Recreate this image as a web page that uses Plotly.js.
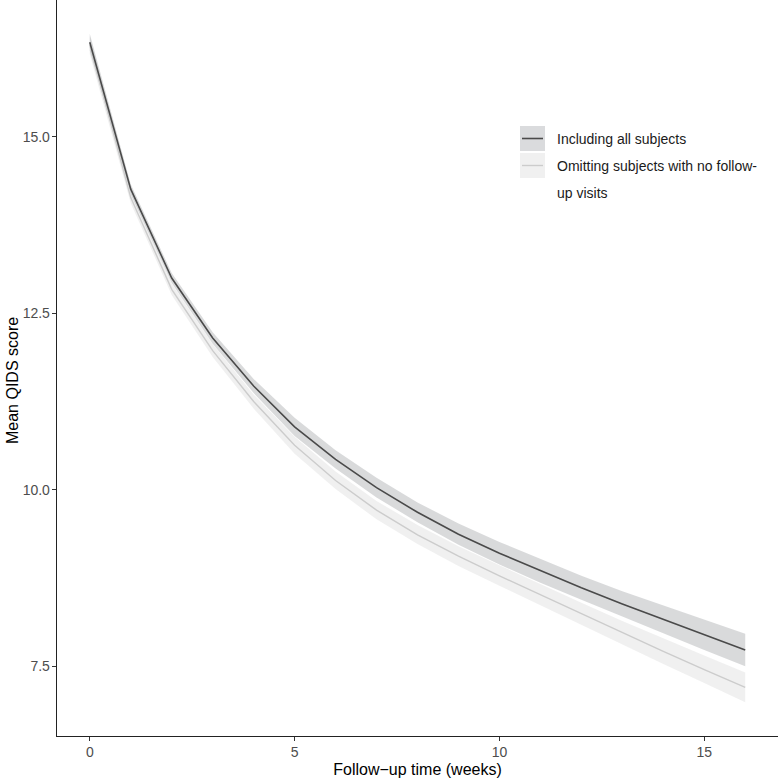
<!DOCTYPE html>
<html>
<head>
<meta charset="utf-8">
<script src="https://cdn.plot.ly/plotly-3.0.1.min.js"></script>
<style>
  html, body { margin: 0; padding: 0; background: #ffffff; }
  #chart { width: 778px; height: 778px; }
</style>
</head>
<body>
<div id="chart"></div>
<script>
// Follow-up week of each model estimate
const weeks = [0, 1, 2, 3, 4, 5, 6, 7, 8, 9, 10, 11, 12, 13, 14, 15, 16];

// Mean QIDS score, all subjects, with 95% band
const allMean  = [16.34, 14.26, 13.00, 12.15, 11.47, 10.89, 10.43, 10.03, 9.68, 9.37, 9.10, 8.85, 8.61, 8.38, 8.16, 7.94, 7.73];
const allLower = [16.22, 14.19, 12.93, 12.07, 11.37, 10.76, 10.30, 9.89, 9.54, 9.22, 8.94, 8.68, 8.44, 8.20, 7.96, 7.73, 7.50];
const allUpper = [16.46, 14.33, 13.07, 12.23, 11.57, 11.02, 10.56, 10.17, 9.82, 9.52, 9.26, 9.02, 8.78, 8.56, 8.36, 8.15, 7.96];

// Mean QIDS score, subjects with at least one follow-up visit, with 95% band
const omitMean  = [16.30, 14.14, 12.84, 11.97, 11.25, 10.63, 10.13, 9.71, 9.36, 9.06, 8.78, 8.51, 8.24, 7.97, 7.71, 7.45, 7.20];
const omitLower = [16.17, 14.06, 12.76, 11.88, 11.15, 10.51, 10.01, 9.58, 9.23, 8.92, 8.64, 8.36, 8.08, 7.80, 7.53, 7.26, 6.99];
const omitUpper = [16.43, 14.22, 12.92, 12.06, 11.35, 10.75, 10.26, 9.84, 9.50, 9.20, 8.93, 8.66, 8.40, 8.14, 7.89, 7.65, 7.41];

const seriesNames = ["Including all subjects", "Omitting subjects with no follow-", "up visits"];

const xTicks = [0, 5, 10, 15];
const yTicks = [7.5, 10, 12.5, 15];
const yTickText = ["7.5", "10.0", "12.5", "15.0"];

const FONT = "Liberation Sans, Arial, Helvetica, sans-serif";
const darkLine = "#4a4a4a";
const lightLine = "#cccccc";
const darkBand = "rgba(150,152,156,0.36)";
const lightBand = "rgba(200,200,200,0.27)";

function band(lower, upper, color) {
  return [
    { x: weeks, y: lower, type: "scatter", mode: "lines", line: { width: 0 },
      hoverinfo: "skip", showlegend: false },
    { x: weeks, y: upper, type: "scatter", mode: "lines", line: { width: 0 },
      fill: "tonexty", fillcolor: color, hoverinfo: "skip", showlegend: false }
  ];
}

const traces = [
  ...band(omitLower, omitUpper, lightBand),
  ...band(allLower, allUpper, darkBand),
  { x: weeks, y: omitMean, type: "scatter", mode: "lines",
    line: { color: lightLine, width: 1.4 }, showlegend: false },
  { x: weeks, y: allMean, type: "scatter", mode: "lines",
    line: { color: darkLine, width: 1.6 }, showlegend: false }
];

// Legend keys drawn as ggplot-style boxes (paper coordinates)
const W = 778, H = 778, ML = 57, MB = 42;
const px = v => (v - ML) / (W - ML);
const py = v => (H - MB - v) / (H - MB);

const shapes = [
  { type: "rect", xref: "paper", yref: "paper", x0: px(520), x1: px(545), y0: py(151), y1: py(126),
    fillcolor: "#dadbdd", line: { width: 0 } },
  { type: "line", xref: "paper", yref: "paper", x0: px(522), x1: px(543), y0: py(138.5), y1: py(138.5),
    line: { color: darkLine, width: 1.6 } },
  { type: "rect", xref: "paper", yref: "paper", x0: px(520), x1: px(545), y0: py(178), y1: py(153),
    fillcolor: "#f0f0f0", line: { width: 0 } },
  { type: "line", xref: "paper", yref: "paper", x0: px(522), x1: px(543), y0: py(165.5), y1: py(165.5),
    line: { color: lightLine, width: 1.4 } }
];

const legendFont = { family: FONT, size: 14, color: "#1a1a1a" };
const annotations = [
  { xref: "paper", yref: "paper", x: px(555), y: py(139), xanchor: "left", yanchor: "middle",
    text: seriesNames[0], showarrow: false, font: legendFont },
  { xref: "paper", yref: "paper", x: px(555), y: py(166), xanchor: "left", yanchor: "middle",
    text: seriesNames[1], showarrow: false, font: legendFont },
  { xref: "paper", yref: "paper", x: px(555), y: py(193), xanchor: "left", yanchor: "middle",
    text: seriesNames[2], showarrow: false, font: legendFont },
  { xref: "paper", yref: "paper", x: px(12), y: py(381), xanchor: "center", yanchor: "middle",
    text: "Mean QIDS score", textangle: -90, showarrow: false,
    font: { family: FONT, size: 16, color: "#000000" } }
];

const layout = {
  width: W, height: H,
  margin: { l: ML, r: 0, t: 0, b: MB, pad: 0 },
  paper_bgcolor: "#ffffff", plot_bgcolor: "#ffffff",
  showlegend: false,
  font: { family: FONT },
  xaxis: {
    range: [-0.8, 16.8], tickvals: xTicks, ticktext: xTicks.map(String),
    showgrid: false, zeroline: false,
    showline: true, linecolor: "#222222", linewidth: 1.3,
    ticks: "outside", ticklen: 4, tickwidth: 1.1, tickcolor: "#333333",
    ticklabelstandoff: -1,
    tickfont: { family: FONT, size: 14, color: "#4d4d4d" },
    title: { text: "Follow\u2212up time (weeks)", standoff: 5,
             font: { family: FONT, size: 16, color: "#000000" } }
  },
  yaxis: {
    range: [6.51, 16.94], tickvals: yTicks, ticktext: yTickText,
    showgrid: false, zeroline: false,
    showline: true, linecolor: "#222222", linewidth: 1.3,
    ticks: "outside", ticklen: 4, tickwidth: 1.1, tickcolor: "#333333",
    ticklabelstandoff: -1,
    tickfont: { family: FONT, size: 14, color: "#4d4d4d" }
  },
  shapes: shapes,
  annotations: annotations
};

Plotly.newPlot("chart", traces, layout, { displayModeBar: false, staticPlot: true });
</script>
</body>
</html>
